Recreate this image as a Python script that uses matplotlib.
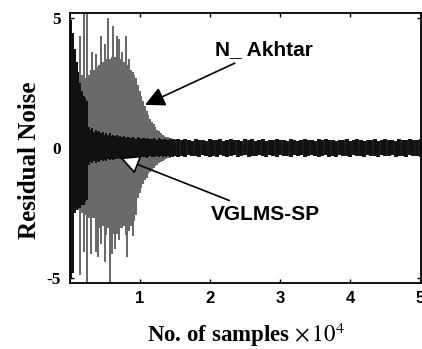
import matplotlib
matplotlib.use('Agg')
import matplotlib.pyplot as plt
import numpy as np

plt.rcParams['mathtext.fontset'] = 'stix'

# N_ Akhtar (gray), every 250 samples from 0 to 15000
akhtar_hi = [2.6, 2.7, 2.6, 2.8, 3.3, 2.7, 4.3, 2.8, 5.2, 2.7,
             5.2, 2.8, 3.0, 3.7, 3.0, 3.6, 3.1, 3.2, 4.3, 3.3,
             4.0, 3.4, 5.0, 3.4, 3.5, 4.7, 3.5, 4.3, 4.2, 3.4,
             3.7, 3.3, 4.3, 3.2, 3.4, 3.0, 2.9, 2.8, 2.7, 2.4,
             2.2, 2.0, 1.8, 1.6, 1.4, 1.25, 1.1, 1.0, 0.9, 0.8,
             0.7, 0.65, 0.55, 0.5, 0.45, 0.42, 0.4, 0.38, 0.36, 0.34, 0.32]
akhtar_lo = [-2.6, -2.6, -2.5, -2.4, -2.3, -2.4, -4.9, -2.5, -4.0, -2.6,
             -5.2, -2.7, -4.1, -2.7, -2.7, -4.0, -4.2, -3.1, -3.7, -3.0,
             -4.4, -3.35, -3.1, -5.2, -4.1, -3.3, -3.9, -3.3, -3.55, -3.1,
             -3.1, -3.0, -3.35, -4.2, -3.2, -3.0, -3.4, -2.8, -2.6, -1.95,
             -1.75, -1.55, -1.4, -1.25, -1.15, -1.0, -0.95, -0.85, -0.78, -0.72,
             -0.65, -0.6, -0.55, -0.5, -0.46, -0.43, -0.4, -0.38, -0.36, -0.34, -0.32]

# VGLMS-SP (black), every 250 samples from 0 to 15000
vglms_hi = [5.2, 4.9, 4.4, 3.8, 3.3, 2.9, 2.5, 2.2, 2.0, 1.9,
            1.8, 0.8, 0.7, 0.75, 0.6, 0.7, 0.6, 0.65, 0.55, 0.6,
            0.5, 0.55, 0.5, 0.55, 0.45, 0.5, 0.45, 0.5, 0.42, 0.45,
            0.4, 0.44, 0.38, 0.42, 0.4, 0.36, 0.41, 0.38, 0.35, 0.4,
            0.37, 0.34, 0.39, 0.36, 0.33, 0.38, 0.35, 0.32, 0.37, 0.34,
            0.3, 0.36, 0.33, 0.31, 0.35, 0.32, 0.3, 0.34, 0.31, 0.33, 0.3]
vglms_lo = [-5.2, -5.0, -4.8, -2.5, -2.4, -2.3, -2.3, -2.2, -2.2, -2.1,
            -2.0, -0.65, -0.55, -0.6, -0.5, -0.58, -0.5, -0.55, -0.48, -0.52,
            -0.46, -0.5, -0.44, -0.48, -0.42, -0.46, -0.43, -0.45, -0.4, -0.44,
            -0.4, -0.42, -0.38, -0.41, -0.37, -0.4, -0.36, -0.39, -0.35, -0.38,
            -0.4, -0.35, -0.37, -0.34, -0.38, -0.35, -0.33, -0.37, -0.34, -0.36,
            -0.33, -0.35, -0.32, -0.36, -0.33, -0.35, -0.31, -0.34, -0.32, -0.35, -0.33]

# VGLMS-SP tail, every 500 samples from 15500 to 50000
tail_hi = [0.32, 0.28, 0.34, 0.3, 0.26, 0.33, 0.29, 0.31, 0.27, 0.35,
           0.3, 0.28, 0.32, 0.26, 0.3, 0.33, 0.28, 0.31, 0.27, 0.34,
           0.29, 0.32, 0.27, 0.3, 0.33, 0.26, 0.31, 0.29, 0.34, 0.28,
           0.3, 0.27, 0.32, 0.29, 0.26, 0.31, 0.33, 0.28, 0.3, 0.27,
           0.32, 0.29, 0.35, 0.28, 0.3, 0.26, 0.31, 0.29, 0.33, 0.27,
           0.3, 0.32, 0.28, 0.26, 0.31, 0.29, 0.34, 0.27, 0.3, 0.32,
           0.28, 0.31, 0.27, 0.33, 0.29, 0.3, 0.34, 0.28, 0.31, 0.33]
tail_lo = [-0.34, -0.3, -0.36, -0.28, -0.33, -0.31, -0.37, -0.29, -0.32, -0.35,
           -0.3, -0.34, -0.27, -0.33, -0.36, -0.3, -0.28, -0.34, -0.31, -0.29,
           -0.35, -0.3, -0.33, -0.27, -0.32, -0.36, -0.29, -0.31, -0.34, -0.28,
           -0.33, -0.3, -0.35, -0.29, -0.32, -0.27, -0.34, -0.31, -0.28, -0.33,
           -0.36, -0.3, -0.29, -0.34, -0.31, -0.35, -0.28, -0.32, -0.3, -0.34,
           -0.29, -0.33, -0.31, -0.36, -0.28, -0.32, -0.3, -0.35, -0.29, -0.33,
           -0.31, -0.28, -0.34, -0.3, -0.32, -0.36, -0.29, -0.33, -0.3, -0.34]

x_ticks = [1, 2, 3, 4, 5]
y_ticks = [-5, 0, 5]

x_head = np.arange(len(akhtar_hi)) * 250
x_tail = 15500 + np.arange(len(tail_hi)) * 500

fig = plt.figure(figsize=(4.22, 3.49), dpi=100)
ax = fig.add_axes([69.5 / 422, 1 - 283 / 349, 351 / 422, 270.5 / 349])

gray = '#6a6a6a'
ax.vlines(x_head, akhtar_lo, akhtar_hi, colors=gray, linewidth=1.45)
ax.vlines(x_head, vglms_lo, vglms_hi, colors='#111111', linewidth=1.45)
ax.vlines(x_tail, tail_lo, tail_hi, colors='#111111', linewidth=2.8)

ax.set_xlim(0, 50000)
ax.set_ylim(-5.2, 5.2)
ax.set_xticks([t * 1e4 for t in x_ticks])
ax.set_xticklabels([str(t) for t in x_ticks], fontfamily='Liberation Sans',
                   fontweight='bold', fontsize=12)
ax.set_yticks(y_ticks)
ax.set_yticklabels([str(t) for t in y_ticks], fontfamily='Liberation Serif',
                   fontweight='bold', fontsize=12.5)
ax.tick_params(direction='in', length=3, width=1, top=True, right=True, pad=6)
for s in ax.spines.values():
    s.set_linewidth(1.3)

ax.annotate('N_ Akhtar', xy=(10750, 1.65), xytext=(20700, 3.77),
            fontfamily='Liberation Sans', fontweight='bold', fontsize=15,
            va='center', ha='left',
            arrowprops=dict(arrowstyle='-|>,head_length=0.8,head_width=0.4',
                            color='black', lw=1.2, shrinkA=2, shrinkB=0))
ax.annotate('VGLMS-SP', xy=(7200, -0.38), xytext=(20200, -2.58),
            fontfamily='Liberation Sans', fontweight='bold', fontsize=15,
            va='center', ha='left',
            arrowprops=dict(arrowstyle='-|>,head_length=0.8,head_width=0.4',
                            facecolor='white', edgecolor='black', lw=1.2,
                            shrinkA=4, shrinkB=0))

fig.text(246 / 422, 1 - 342 / 349, r'No. of samples $\times\,10^4$',
         fontfamily='Liberation Serif', fontweight='bold', fontsize=16.5,
         ha='center', va='baseline')
fig.text(30 / 422, 1 - 160 / 349, 'Residual Noise', rotation=90,
         fontfamily='Liberation Serif', fontweight='bold', fontsize=18,
         ha='center', va='center')

fig.savefig('out.png', dpi=100)
